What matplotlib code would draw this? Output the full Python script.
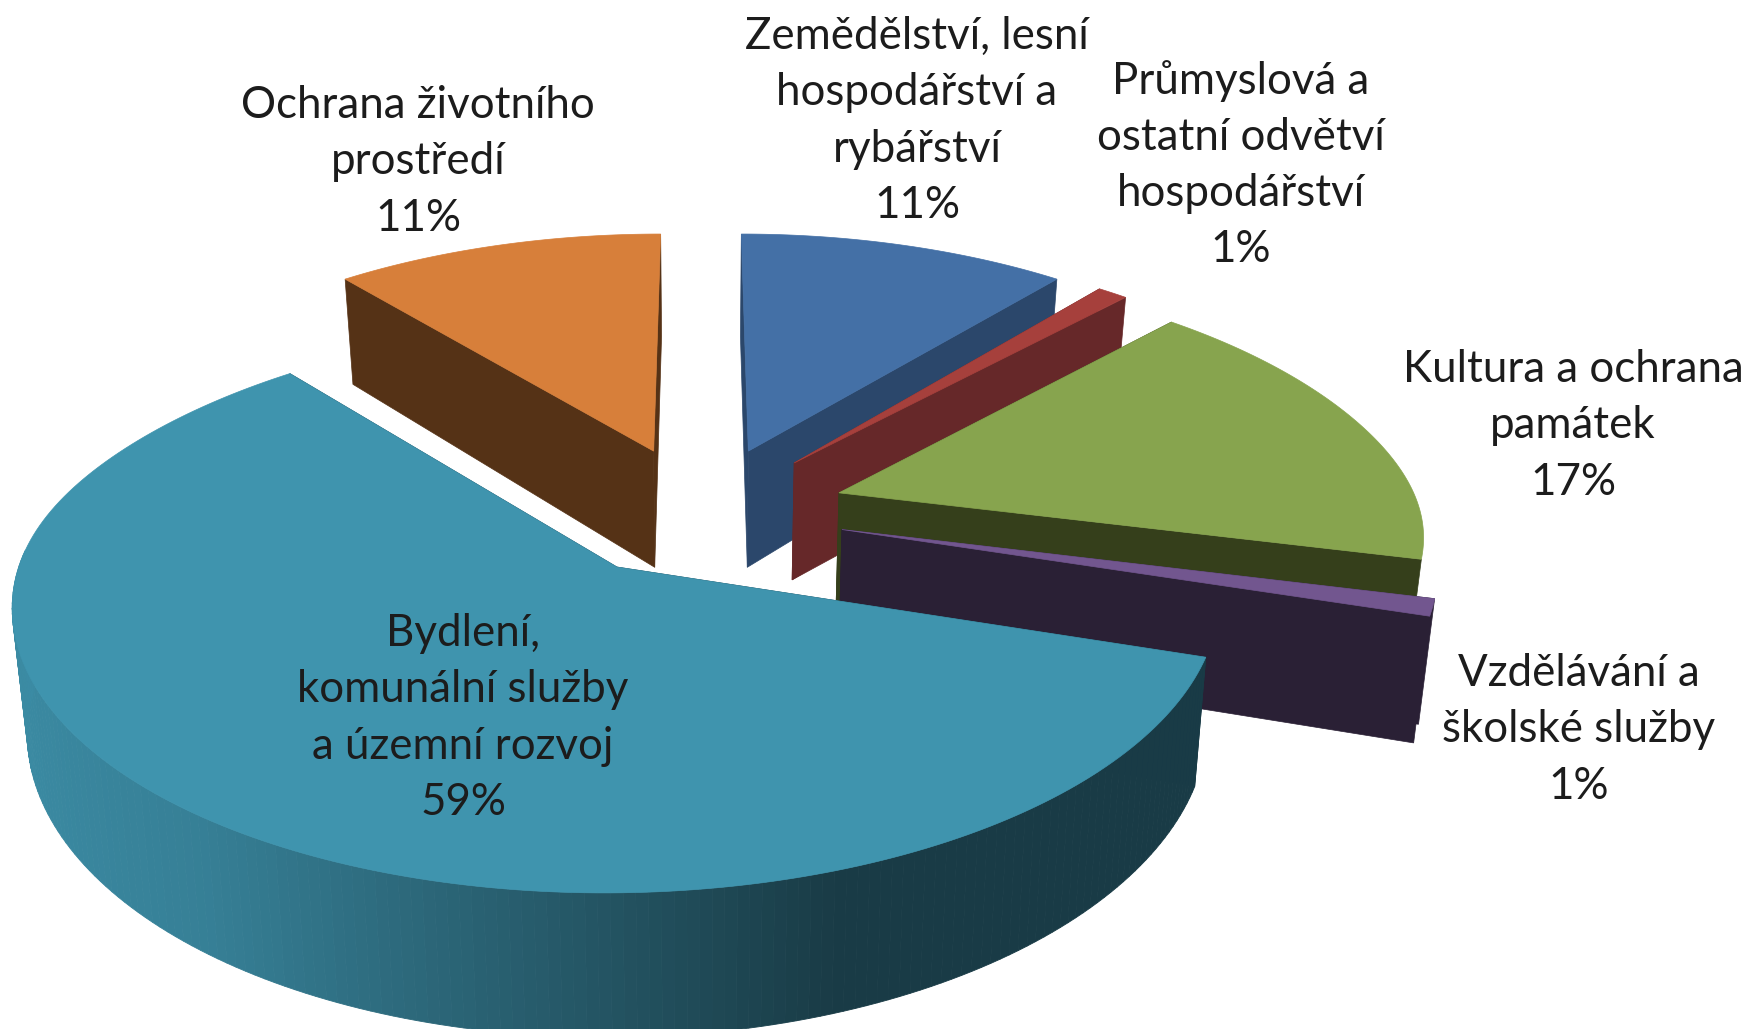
#!/usr/bin/env python3
# -*- coding: utf-8 -*-
"""Exploded 3D pie, drawn by hand since matplotlib has no perspective pie."""
import numpy as np
import matplotlib
matplotlib.use("Agg")
import matplotlib.pyplot as plt
from matplotlib.colors import to_rgb

labels = ["Zemědělství, lesní\nhospodářství a\nrybářství",
          "Průmyslová a\nostatní odvětví\nhospodářství",
          "Kultura a ochrana\npamátek",
          "Vzdělávání a\nškolské služby",
          "Bydlení,\nkomunální služby\na územní rozvoj",
          "Ochrana životního\nprostředí"]
values = [11, 1, 17, 1, 59, 11]

top_colors = ["#4470a6", "#a6403c", "#87a44e", "#72568f", "#3f94ae", "#d77f3a"]
side_colors = ["#2b476b", "#662829", "#353f1b", "#2a2035", "#183a46", "#553216"]
label_pos = [(917, 121), (1241, 165), (1573, 426), (1579, 730), (463, 718), (418, 162)]

# perspective set-up, in output pixels
CX, CY = 701, 511
A, B = 581, 263
K = 0.14
H = 120
SHRINK = 0.978
EXPLODE = 0.25
FS = 31.6


def project(x, y, low=False):
    x, y = np.asarray(x, float), np.asarray(y, float)
    p = 1 / (1 + K * y)
    # horizontal convergence is a bit stronger on the far side
    px = 1 / (1 + (0.153 + 0.025 * np.tanh(3 * y)) * y)
    sx = A * x * px
    sy = B * y * p
    if low:
        return CX + sx * SHRINK, CY - sy + H * p
    return CX + sx, CY - sy


def rim_color(th, base):
    # lit from the left, darkening towards the right of the front
    s = np.sin(th)
    f = np.interp(s, [-1, -0.6, -0.1, 0.35, 1], [0.94, 0.86, 0.62, 0.40, 0.40])
    return tuple(c * f for c in to_rgb(base))


fig = plt.figure(figsize=(17.53, 10.29), dpi=100)
ax = fig.add_axes([0, 0, 1, 1])
ax.set_xlim(0, 1753)
ax.set_ylim(1029, 0)
ax.axis("off")

edges = np.cumsum([0] + values) / sum(values) * 2 * np.pi
# back to front
order = [5, 0, 1, 2, 3, 4]

for i in order:
    t0, t1 = edges[i], edges[i + 1]
    mid = (t0 + t1) / 2
    ox, oy = EXPLODE * np.sin(mid), EXPLODE * np.cos(mid)
    th = np.linspace(t0, t1, 200)
    x = ox + np.sin(th)
    y = oy + np.cos(th)
    top = project(x, y)
    low = project(x, y, low=True)
    ax0, ay0 = project(ox, oy)
    lx0, ly0 = project(ox, oy, low=True)
    # radial cut faces
    for j in (0, -1):
        ax.fill([ax0, top[0][j], low[0][j], lx0], [ay0, top[1][j], low[1][j], ly0],
                color=side_colors[i], lw=0.5)
    # outer wall, only where it faces the viewer
    if i == 4:
        for j in range(len(th) - 1):
            if np.cos(th[j]) > 0.05:
                continue
            ax.fill([top[0][j], top[0][j + 1], low[0][j + 1], low[0][j]],
                    [top[1][j], top[1][j + 1], low[1][j + 1], low[1][j]],
                    color=rim_color(th[j], top_colors[i]), lw=0.6)
    ax.fill(np.r_[ax0, top[0]], np.r_[ay0, top[1]], color=top_colors[i], lw=0.5)

for lab, val, (px, py) in zip(labels, values, label_pos):
    ax.text(px, py, f"{lab}\n{val}%", ha="center", va="center", fontsize=FS,
            family="Lato", color="#1c1c1c", linespacing=1.46)

fig.savefig("out.png", dpi=100, facecolor="white")
